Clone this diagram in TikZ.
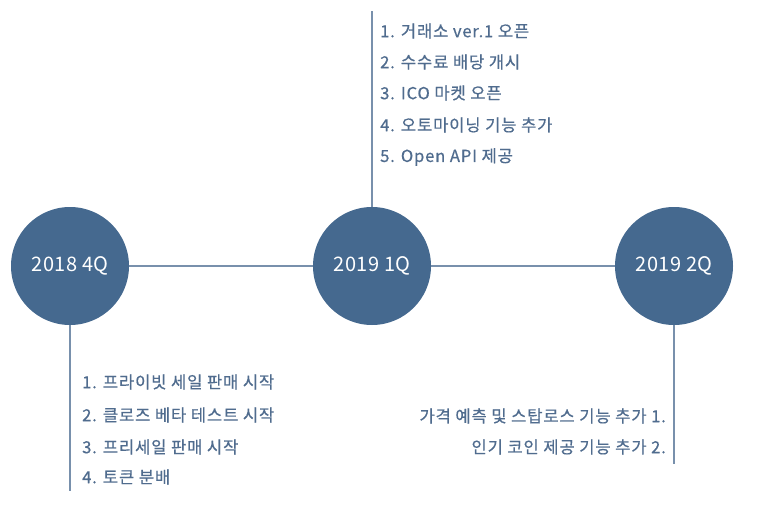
\documentclass[tikz,border=0pt]{standalone}
\usepackage{fontspec}
\setmainfont{Noto Sans CJK KR}
\newfontfamily\itemfont[LetterSpace=5,FakeBold=0.6]{Noto Sans CJK KR}
\newfontfamily\quarterfont[LetterSpace=2]{Noto Sans CJK KR}
\usetikzlibrary{positioning}
\definecolor{qfill}{HTML}{45698F}
\definecolor{qline}{HTML}{7890AC}
\definecolor{qtext}{HTML}{506C8E}

\begin{document}
\begin{tikzpicture}[x=1pt,y=1pt,
	quarter/.style={circle, fill=qfill, minimum size=118pt, inner sep=0pt, text=white, font=\quarterfont\fontsize{20}{24}\selectfont},
	item/.style={text=qtext, inner sep=0pt, font=\itemfont\fontsize{16.6}{19}\selectfont},
	tline/.style={draw=qline, line width=1.1pt}]
	\useasboundingbox (0,0) rectangle (773,531);

	\node[quarter] (q4) at (70,265) {2018 4Q} ;
	\node[quarter] (q1) at (372,265) {2019 1Q} ;
	\node[quarter] (q2) at (674,265) {2019 2Q} ;

	\coordinate (q4end) at (70,40) ;
	\coordinate (q1end) at (372,520) ;
	\coordinate (q2end) at (674,67) ;

	\draw [tline] (q4) -- (q1) ;
	\draw [tline] (q1) -- (q2) ;
	\draw [tline] (q4.south) -- (q4end) ;
	\draw [tline] (q1.north) -- (q1end) ;
	\draw [tline] (q2.south) -- (q2end) ;

	% 2019 1Q
	\node[item, anchor=west] (a1) at (380,500) {1. 거래소 ver.1 오픈} ;
	\node[item, anchor=west] (a2) at (380,469) {2. 수수료 배당 개시} ;
	\node[item, anchor=west] (a3) at (380,438) {3. ICO 마켓 오픈} ;
	\node[item, anchor=west] (a4) at (380,406) {4. 오토마이닝 기능 추가} ;
	\node[item, anchor=west] (a5) at (380,374) {5. Open API 제공} ;

	% 2018 4Q
	\node[item, anchor=west] (b1) at (82,149) {1. 프라이빗 세일 판매 시작} ;
	\node[item, anchor=west] (b2) at (82,116) {2. 클로즈 베타 테스트 시작} ;
	\node[item, anchor=west] (b3) at (82,84) {3. 프리세일 판매 시작} ;
	\node[item, anchor=west] (b4) at (82,54) {4. 토큰 분배} ;

	% 2019 2Q
	\node[item, anchor=east] (c1) at (666,115) {가격 예측 및 스탑로스 기능 추가 1.} ;
	\node[item, anchor=east] (c2) at (666,84) {인기 코인 제공 기능 추가 2.} ;
\end{tikzpicture}
\end{document}
